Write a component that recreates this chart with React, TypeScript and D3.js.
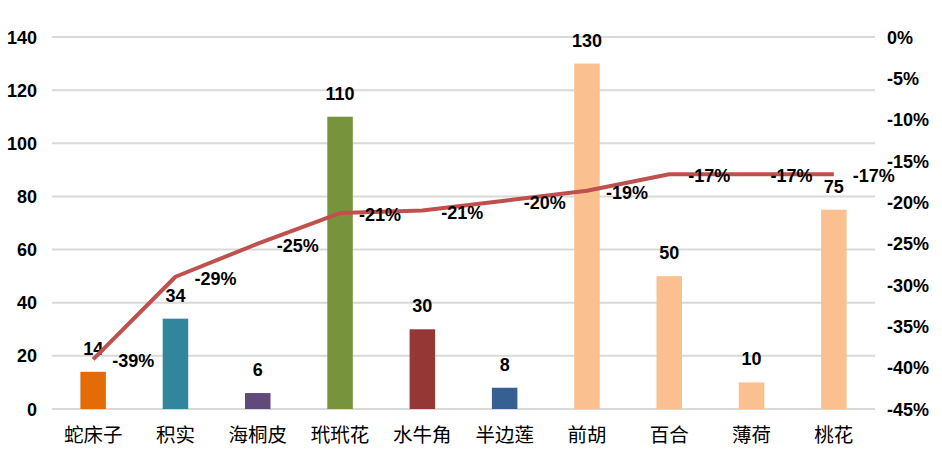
import * as d3 from "d3";

const categories = ["蛇床子", "积实", "海桐皮", "玳玳花", "水牛角", "半边莲", "前胡", "百合", "薄荷", "桃花"];
const barValues = [14, 34, 6, 110, 30, 8, 130, 50, 10, 75];
const barColors = ["#E36C09", "#31859C", "#604A7B", "#77933C", "#953735", "#376092", "#FAC090", "#FAC090", "#FAC090", "#FAC090"];
const lineValues = [-39, -29, -25, -21.3, -21, -19.8, -18.6, -16.6, -16.6, -16.6];
const leftTicks = [0, 20, 40, 60, 80, 100, 120, 140];
const rightTicks = [0, -5, -10, -15, -20, -25, -30, -35, -40, -45];

const W = 942;
const H = 455;
const numFont = "'Liberation Sans', Arial, sans-serif";
const catFont = "'Noto Sans CJK SC', sans-serif";

export default function App() {
    const x = d3.scaleBand<string>().domain(categories).range([52, 875]).paddingInner(0).paddingOuter(0);
    const y = d3.scaleLinear().domain([0, 140]).range([409, 37]);
    const y2 = d3.scaleLinear().domain([-45, 0]).range([409, 37]);
    const barW = x.bandwidth() * 0.31;
    const cx = (c: string) => (x(c) ?? 0) + x.bandwidth() / 2;

    const line = d3.line<number>()
        .x((_, i) => cx(categories[i]))
        .y(d => y2(d));

    return (
        <svg width={W} height={H} style={{ position: "absolute", left: 0, top: 0, background: "#fff" }}>
            {/* gridlines */}
            {leftTicks.map(t => (
                <line key={t} x1={52} x2={875} y1={y(t)} y2={y(t)} stroke="#D9D9D9" strokeWidth={2} />
            ))}
            {/* left axis labels */}
            {leftTicks.map(t => (
                <text key={"l" + t} x={37} y={y(t) + 6.5} textAnchor="end" fontFamily={numFont}
                    fontWeight="bold" fontSize={18} fill="#000">{t}</text>
            ))}
            {/* right axis labels */}
            {rightTicks.map(t => (
                <text key={"r" + t} x={887} y={y2(t) + 6.5} textAnchor="start" fontFamily={numFont}
                    fontWeight="bold" fontSize={18} fill="#000">{t + "%"}</text>
            ))}
            {/* bars */}
            {categories.map((c, i) => (
                <rect key={c} x={cx(c) - barW / 2} y={y(barValues[i])} width={barW}
                    height={y(0) - y(barValues[i])} fill={barColors[i]} />
            ))}
            {/* bar labels */}
            {categories.map((c, i) => (
                <text key={"b" + c} x={cx(c)} y={y(barValues[i]) - 17} textAnchor="middle" fontFamily={numFont}
                    fontWeight="bold" fontSize={18} fill="#000">{barValues[i]}</text>
            ))}
            {/* line */}
            <path d={line(lineValues) ?? ""} fill="none" stroke="#C0504D" strokeWidth={4} strokeLinejoin="round" />
            {/* line labels */}
            {categories.map((c, i) => (
                <text key={"p" + c} x={cx(c) + 19} y={y2(lineValues[i]) + 8} fontFamily={numFont}
                    fontWeight="bold" fontSize={18} fill="#000">{Math.round(lineValues[i]) + "%"}</text>
            ))}
            {/* category labels */}
            {categories.map(c => (
                <text key={"c" + c} x={cx(c)} y={442} textAnchor="middle" fontFamily={catFont}
                    fontSize={19.5} fill="#000">{c}</text>
            ))}
        </svg>
    );
}
